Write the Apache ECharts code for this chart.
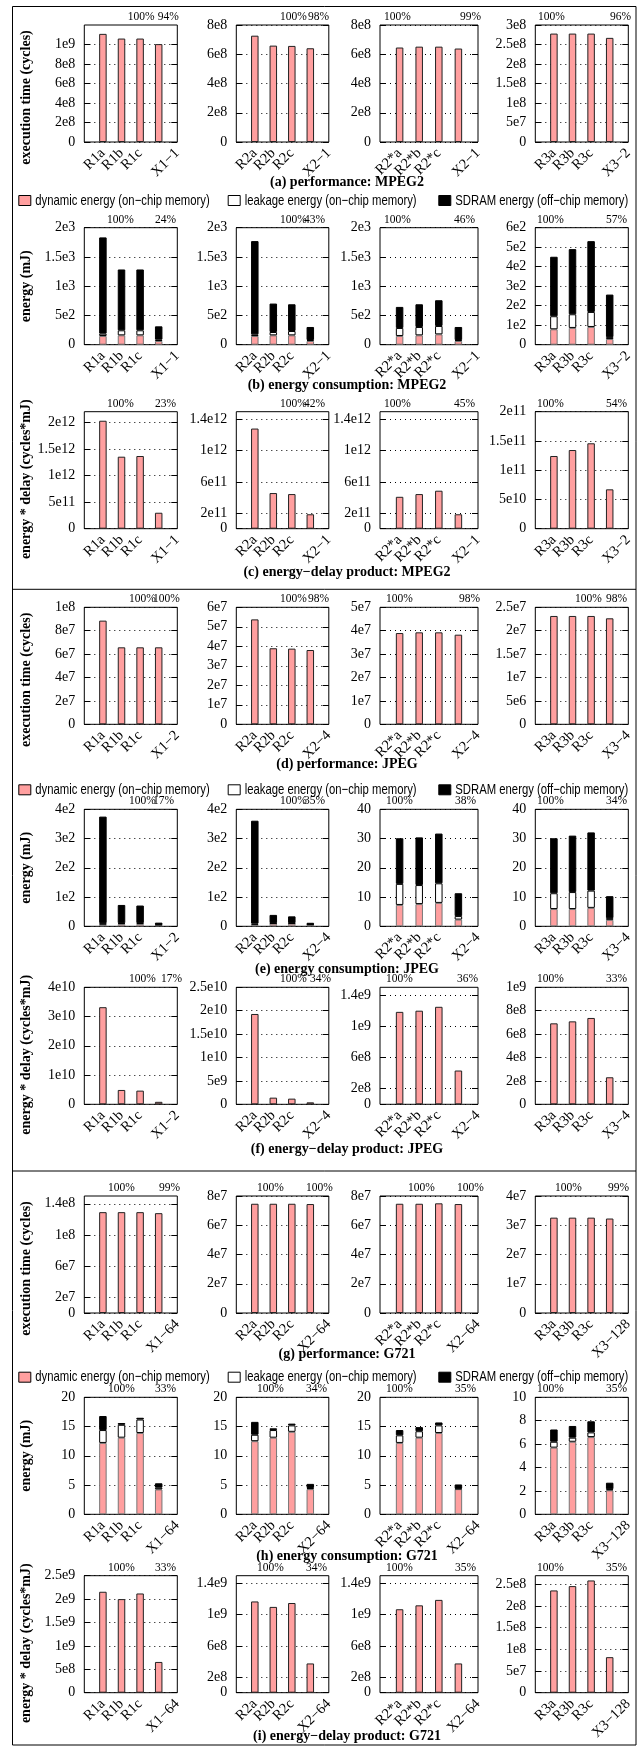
<!DOCTYPE html>
<html><head><meta charset="utf-8">
<script src="https://cdn.jsdelivr.net/npm/echarts@6/dist/echarts.min.js"></script>
<style>html,body{margin:0;padding:0;background:#fff}#c{width:639px;height:1748px}</style>
</head><body><div id="c"></div>
<script>
// ---------- categories ----------
const catsMPEG2 = [['R1a','R1b','R1c','X1−1'],['R2a','R2b','R2c','X2−1'],['R2*a','R2*b','R2*c','X2−1'],['R3a','R3b','R3c','X3−2']];
const catsJPEG  = [['R1a','R1b','R1c','X1−2'],['R2a','R2b','R2c','X2−4'],['R2*a','R2*b','R2*c','X2−4'],['R3a','R3b','R3c','X3−4']];
const catsG721  = [['R1a','R1b','R1c','X1−64'],['R2a','R2b','R2c','X2−64'],['R2*a','R2*b','R2*c','X2−64'],['R3a','R3b','R3c','X3−128']];

// ---------- series values ----------
const perfMPEG2 = [[1.109e9,1.061e9,1.061e9,1.004e9],[7.27e8,6.59e8,6.57e8,6.41e8],[6.46e8,6.52e8,6.52e8,6.39e8],[2.78e8,2.78e8,2.78e8,2.67e8]];
const dynMPEG2   = [[149,160,160,63],[149,160,160,63],[149,160,177,63],[79,86,91,29]];
const leakMPEG2  = [[40,86,86,23],[28,57,74,17],[137,143,143,17],[67,70,77,10]];
const sdramMPEG2 = [[1645,1040,1040,228],[1594,486,457,223],[360,388,440,223],[305,334,363,218]];
const edpMPEG2 = [[2.03e12,1.354e12,1.367e12,3.0e11],[1.284e12,4.57e11,4.44e11,1.85e11],[4.09e11,4.44e11,4.87e11,1.85e11],[1.243e11,1.345e11,1.46e11,6.73e10]];

const perfJPEG = [[8.86e7,6.58e7,6.58e7,6.58e7],[5.38e7,3.9e7,3.88e7,3.81e7],[3.9e7,3.93e7,3.93e7,3.83e7],[2.315e7,2.315e7,2.315e7,2.265e7]];
const dynJPEG   = [[5,8,8,4.5],[5,9,9,5],[7.3,7.6,8.0,2.3],[5.9,5.9,6.3,2.2]];
const leakJPEG  = [[6,3,3,1.5],[4,2,2,1.5],[7.2,6.5,6.7,1.2],[5.4,5.8,5.9,0.6]];
const sdramJPEG = [[364,62,60,6.5],[352,28,23,5.5],[15.6,16.3,17.0,7.8],[18.8,19.3,19.9,7.5]];
const edpJPEG = [[3.32e10,4.9e9,4.67e9,8.5e8],[1.93e10,1.42e9,1.21e9,4.2e8],[1.185e9,1.2e9,1.25e9,4.33e8],[6.92e8,7.09e8,7.38e8,2.31e8]];

const perfG721 = [[1.293e8,1.293e8,1.293e8,1.28e8],[7.47e7,7.47e7,7.47e7,7.45e7],[7.47e7,7.47e7,7.5e7,7.45e7],[3.26e7,3.26e7,3.26e7,3.23e7]];
const dynG721   = [[12.2,13.1,13.9,4.25],[12.5,13.1,14.1,4.3],[12.2,13.1,13.9,4.3],[5.7,6.2,6.6,2.05]];
const leakG721  = [[2.2,2.2,2.3,0.3],[1.1,1.3,1.1,0.2],[1.3,1.1,1.3,0.1],[0.5,0.35,0.4,0.1]];
const sdramG721 = [[2.4,0.3,0.3,0.75],[2.2,0.3,0.3,0.7],[0.9,0.7,0.5,0.7],[1.05,1.0,0.95,0.55]];
const edpG721 = [[2.157e9,2.0e9,2.12e9,6.57e8],[1.17e9,1.10e9,1.15e9,3.75e8],[1.07e9,1.12e9,1.19e9,3.75e8],[2.36e8,2.46e8,2.59e8,8.2e7]];

// ---------- tick labels & axis maxima ----------
const ticksA = [['0','2e8','4e8','6e8','8e8','1e9'],['0','2e8','4e8','6e8','8e8'],['0','2e8','4e8','6e8','8e8'],['0','5e7','1e8','1.5e8','2e8','2.5e8','3e8']];
const maxA = [1.2e9, 8e8, 8e8, 3e8];
const ticksB = [['0','5e2','1e3','1.5e3','2e3'],['0','5e2','1e3','1.5e3','2e3'],['0','5e2','1e3','1.5e3','2e3'],['0','1e2','2e2','3e2','4e2','5e2','6e2']];
const maxB = [2e3, 2e3, 2e3, 6e2];
const ticksC = [['0','5e11','1e12','1.5e12','2e12'],['0','2e11','6e11','1e12','1.4e12'],['0','2e11','6e11','1e12','1.4e12'],['0','5e10','1e11','1.5e11','2e11']];
const maxC = [2.2e12, 1.5e12, 1.5e12, 2e11];
const ticksD = [['0','2e7','4e7','6e7','8e7','1e8'],['0','1e7','2e7','3e7','4e7','5e7','6e7'],['0','1e7','2e7','3e7','4e7','5e7'],['0','5e6','1e7','1.5e7','2e7','2.5e7']];
const maxD = [1e8, 6e7, 5e7, 2.5e7];
const ticksE = [['0','1e2','2e2','3e2','4e2'],['0','1e2','2e2','3e2','4e2'],['0','10','20','30','40'],['0','10','20','30','40']];
const maxE = [4e2, 4e2, 40, 40];
const ticksF = [['0','1e10','2e10','3e10','4e10'],['0','5e9','1e10','1.5e10','2e10','2.5e10'],['0','2e8','6e8','1e9','1.4e9'],['0','2e8','4e8','6e8','8e8','1e9']];
const maxF = [4e10, 2.5e10, 1.5e9, 1e9];
const ticksG = [['0','2e7','6e7','1e8','1.4e8'],['0','2e7','4e7','6e7','8e7'],['0','2e7','4e7','6e7','8e7'],['0','1e7','2e7','3e7','4e7']];
const maxG = [1.5e8, 8e7, 8e7, 4e7];
const ticksH = [['0','5','10','15','20'],['0','5','10','15','20'],['0','5','10','15','20'],['0','2','4','6','8','10']];
const maxH = [20, 20, 20, 10];
const ticksI = [['0','5e8','1e9','1.5e9','2e9','2.5e9'],['0','2e8','6e8','1e9','1.4e9'],['0','2e8','6e8','1e9','1.4e9'],['0','5e7','1e8','1.5e8','2e8','2.5e8']];
const maxI = [2.5e9, 1.5e9, 1.5e9, 2.7e8];

// ---------- percentage annotations ----------
const pctA = [['100%','94%'],['100%','98%'],['100%','99%'],['100%','96%']];
const pctB = [['100%','24%'],['100%','43%'],['100%','46%'],['100%','57%']];
const pctC = [['100%','23%'],['100%','42%'],['100%','45%'],['100%','54%']];
const pctD = [['100%','100%'],['100%','98%'],['100%','98%'],['100%','98%']];
const pctE = [['100%','17%'],['100%','35%'],['100%','38%'],['100%','34%']];
const pctF = [['100%','17%'],['100%','34%'],['100%','36%'],['100%','33%']];
const pctG = [['100%','99%'],['100%','100%'],['100%','100%'],['100%','99%']];
const pctH = [['100%','33%'],['100%','34%'],['100%','35%'],['100%','35%']];
const pctI = [['100%','33%'],['100%','34%'],['100%','35%'],['100%','35%']];

const legendNames = ['dynamic energy (on−chip memory)','leakage energy (on−chip memory)','SDRAM energy (off−chip memory)'];

// ---------- layout (positions/sizes only) ----------
const rowTop = [25, 227.7, 411.7, 607.3, 809.3, 987.3, 1196, 1397.3, 1575.7];
const plotH = 117;
const panelLeft = [84.3, 236.3, 380, 535.3];
const panelWidth = [93, 92.5, 98, 93];
const pctX = [
  [[127.7,157.7],[280,308],[384,460],[538,610]],
  [[107,155],[280,304],[384,454],[537,606]],
  [[107,155],[280,304],[384,454],[537,606]],
  [[129,153],[280,308],[386,459],[575,606]],
  [[129,153],[280,304],[386,455],[537,606]],
  [[129,161],[280,310],[386,457],[537,606]],
  [[108,159],[257,306],[408,457],[555,608]],
  [[108,155],[257,306],[386,455],[537,606]],
  [[108,155],[257,306],[386,455],[537,606]]
];
const titleY = [182.7, 385, 572.7, 764.3, 969.3, 1149.3, 1354.3, 1556, 1736.7];
const ylabelOffset = {perf: 14, energy: 0, edp: 9};
const legendY = [200, 789.3, 1376.7];
const legendX = [18.3, 227.7, 438.3];

const rows = [
  {kind:'perf', cats:catsMPEG2, vals:perfMPEG2, ticks:ticksA, max:maxA, pct:pctA, title:'(a) performance: MPEG2', ylabel:'execution time (cycles)'},
  {kind:'energy', cats:catsMPEG2, vals:[dynMPEG2,leakMPEG2,sdramMPEG2], ticks:ticksB, max:maxB, pct:pctB, title:'(b) energy consumption: MPEG2', ylabel:'energy (mJ)'},
  {kind:'edp', cats:catsMPEG2, vals:edpMPEG2, ticks:ticksC, max:maxC, pct:pctC, title:'(c) energy−delay product: MPEG2', ylabel:'energy * delay (cycles*mJ)'},
  {kind:'perf', cats:catsJPEG, vals:perfJPEG, ticks:ticksD, max:maxD, pct:pctD, title:'(d) performance: JPEG', ylabel:'execution time (cycles)'},
  {kind:'energy', cats:catsJPEG, vals:[dynJPEG,leakJPEG,sdramJPEG], ticks:ticksE, max:maxE, pct:pctE, title:'(e) energy consumption: JPEG', ylabel:'energy (mJ)'},
  {kind:'edp', cats:catsJPEG, vals:edpJPEG, ticks:ticksF, max:maxF, pct:pctF, title:'(f) energy−delay product: JPEG', ylabel:'energy * delay (cycles*mJ)'},
  {kind:'perf', cats:catsG721, vals:perfG721, ticks:ticksG, max:maxG, pct:pctG, title:'(g) performance: G721', ylabel:'execution time (cycles)'},
  {kind:'energy', cats:catsG721, vals:[dynG721,leakG721,sdramG721], ticks:ticksH, max:maxH, pct:pctH, title:'(h) energy consumption: G721', ylabel:'energy (mJ)'},
  {kind:'edp', cats:catsG721, vals:edpG721, ticks:ticksI, max:maxI, pct:pctI, title:'(i) energy−delay product: G721', ylabel:'energy * delay (cycles*mJ)'}
];

const SERIF = '"Liberation Serif","Times New Roman",serif';
const SANS = '"Liberation Sans",Arial,sans-serif';
const PINK = '#ff9f9f';
const stackColors = [PINK, '#ffffff', '#000000'];
const stackBorders = ['#777777', '#000000', '#000000'];

const grids = [], xAxes = [], yAxes = [], series = [], graphics = [], legends = [];
const pad = a => [null].concat(a, [null]);

rows.forEach((row, r) => {
  for (let p = 0; p < 4; p++) {
    const g = r * 4 + p;
    const tickStrs = row.ticks[p];
    const tickVals = tickStrs.map(Number);
    const mx = row.max[p];
    const cats = row.cats[p];
    grids.push({left: panelLeft[p], top: rowTop[r], width: panelWidth[p], height: plotH,
      show: true, borderColor: '#000', borderWidth: 1, backgroundColor: 'transparent'});
    // the last (X...) label is drawn overhanging to the right, as in the original gnuplot output
    const xfmt = (v, i) => (i === 5 ? cats[3] : (i === 4 ? '' : v));
    xAxes.push({type:'category', gridIndex:g, data:['', ...cats, ''], boundaryGap:false,
      axisLine:{show:false}, axisTick:{show:false}, splitLine:{show:false},
      axisLabel:{interval:0, rotate:45, margin:9, formatter:xfmt, fontFamily:SERIF, fontSize:14.5, color:'#000'}});
    const fmt = v => { for (let i = 0; i < tickVals.length; i++) { if (Math.abs(tickVals[i] - v) <= mx * 1e-6) return tickStrs[i]; } return ''; };
    yAxes.push({type:'value', gridIndex:g, min:0, max:mx, position:'left',
      axisLine:{show:false},
      axisTick:{show:true, inside:true, length:6, customValues:tickVals, lineStyle:{color:'#000', width:1}},
      axisLabel:{customValues:tickVals, formatter:fmt, margin:9, fontFamily:SERIF, fontSize:14, color:'#000'},
      splitLine:{show:true, lineStyle:{type:[1,4], color:'#000', width:1}}});
    yAxes.push({type:'value', gridIndex:g, min:0, max:mx, position:'right',
      axisLine:{show:false},
      axisTick:{show:true, inside:true, length:6, customValues:tickVals, lineStyle:{color:'#000', width:1}},
      axisLabel:{show:false}, splitLine:{show:false}});
    if (row.kind === 'energy') {
      for (let k = 0; k < 3; k++) {
        series.push({type:'bar', name:legendNames[k], xAxisIndex:g, yAxisIndex:2*g, stack:'s'+g,
          data:pad(row.vals[k][p]), barWidth:7.5, silent:true,
          itemStyle:{color:stackColors[k], borderColor:stackBorders[k], borderWidth:1}});
      }
    } else {
      series.push({type:'bar', name:row.kind, xAxisIndex:g, yAxisIndex:2*g,
        data:pad(row.vals[p]), barWidth:7.5, silent:true,
        itemStyle:{color:PINK, borderColor:'#222', borderWidth:1}});
    }
    for (let j = 0; j < 2; j++) {
      graphics.push({type:'text', x:pctX[r][p][j], y:rowTop[r] - 8, silent:true,
        style:{text:row.pct[p][j], fontFamily:SERIF, fontSize:11.5, fill:'#000',
          align:'left', verticalAlign:'middle', textAlign:'left', textVerticalAlign:'middle'}});
    }
  }
  graphics.push({type:'text', x:347, y:titleY[r], silent:true,
    style:{text:row.title, fontFamily:SERIF, fontSize:14, fontWeight:'bold', fill:'#000',
      align:'center', verticalAlign:'middle', textAlign:'center', textVerticalAlign:'middle'}});
  graphics.push({type:'text', x:26, y:rowTop[r] + plotH / 2 + ylabelOffset[row.kind], rotation:Math.PI/2, silent:true,
    style:{text:row.ylabel, fontFamily:SERIF, fontSize:14, fontWeight:'bold', fill:'#000',
      align:'center', verticalAlign:'middle', textAlign:'center', textVerticalAlign:'middle'}});
});

// section frames
graphics.push({type:'rect', silent:true, shape:{x:12.5, y:6.5, width:623.5, height:1738.5}, style:{fill:'none', stroke:'#000', lineWidth:1}});
graphics.push({type:'line', silent:true, shape:{x1:12.5, y1:589.3, x2:636, y2:589.3}, style:{stroke:'#000', lineWidth:1}});
graphics.push({type:'line', silent:true, shape:{x1:12.5, y1:1171, x2:636, y2:1171}, style:{stroke:'#000', lineWidth:1}});

// legends: icons via legend component, condensed captions via scaled text
legendY.forEach(ly => {
  legendNames.forEach((nm, k) => {
    legends.push({show:true, left:legendX[k], top:ly - 5, padding:0, itemWidth:12, itemHeight:10, itemGap:0,
      selectedMode:false, icon:'rect', formatter:() => '',
      data:[{name:nm, itemStyle:{color:stackColors[k], borderColor:'#000', borderWidth:1}}],
      textStyle:{fontSize:1, color:'#000'}});
    graphics.push({type:'text', x:legendX[k] + 17, y:ly + 0.5, scaleX:0.78, silent:true,
      style:{text:nm, fontFamily:SANS, fontSize:14.5, fill:'#000',
        align:'left', verticalAlign:'middle', textAlign:'left', textVerticalAlign:'middle'}});
  });
});

const chart = echarts.init(document.getElementById('c'), null, {renderer:'canvas'});
chart.setOption({
  animation:false,
  backgroundColor:'#fff',
  grid:grids, xAxis:xAxes, yAxis:yAxes, series:series, legend:legends, graphic:graphics
});
</script>
</body></html>
